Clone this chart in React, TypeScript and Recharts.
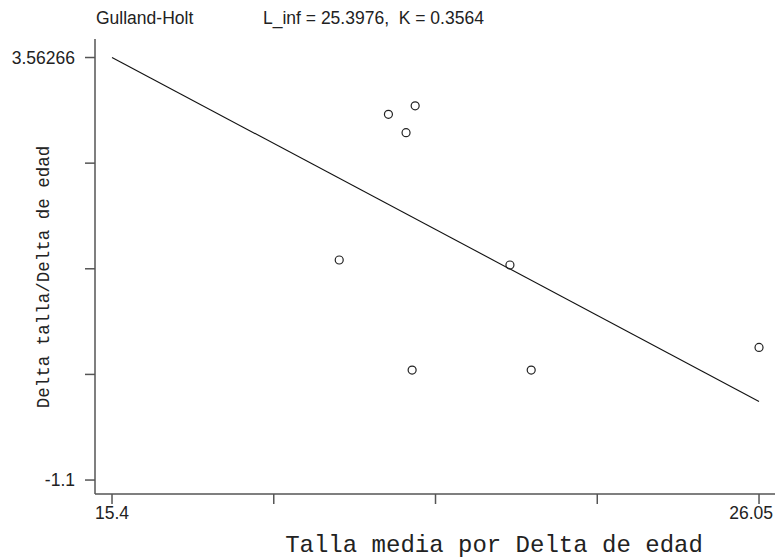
import { ScatterChart, Scatter, XAxis, YAxis } from 'recharts';

const xTicks = [15.4, 18.0625, 20.725, 23.3875, 26.05];
const yTicks = [-1.1, 0.065665, 1.23133, 2.397, 3.56266];

// observed points: mean length vs growth rate
const tallaMedia = [20.39, 19.95, 20.24, 19.14, 21.95, 20.34, 22.3, 26.05];
const deltaTalla = [3.03, 2.936, 2.733, 1.328, 1.273, 0.114, 0.114, 0.364];

// fitted Gulland-Holt line
const fitX = [15.4, 26.05];
const fitY = [3.5632, -0.2325];

const points = tallaMedia.map((x, i) => ({ x, y: deltaTalla[i] }));
const fit = fitX.map((x, i) => ({ x, y: fitY[i] }));

const sans = '"Liberation Sans", Arial, sans-serif';
const mono = '"Liberation Mono", "Courier New", monospace';

const XTick = (props: any) => {
  const { x, y, payload, index } = props;
  if (index !== 0 && index !== xTicks.length - 1) return <g />;
  const last = index === xTicks.length - 1;
  return (
    <text
      x={last ? x + 14 : x}
      y={y}
      dy={13}
      textAnchor={last ? 'end' : 'middle'}
      fontFamily={sans}
      fontSize={17.5}
      fill="#222"
    >
      {payload.value}
    </text>
  );
};

const YTick = (props: any) => {
  const { x, y, payload, index } = props;
  if (index !== 0 && index !== yTicks.length - 1) return <g />;
  return (
    <text x={x} y={y} dy={6} textAnchor="end" fontFamily={sans} fontSize={17.5} fill="#222">
      {payload.value}
    </text>
  );
};

const Hollow = (props: any) => (
  <circle cx={props.cx} cy={props.cy} r={4} fill="none" stroke="#222" strokeWidth={1.2} />
);

export default function App() {
  return (
    <div style={{ position: 'absolute', left: 0, top: 0, width: 777, height: 558, background: '#fff' }}>
      <div
        style={{
          position: 'absolute',
          top: 8,
          left: 96,
          fontFamily: sans,
          fontSize: 17.5,
          color: '#222',
          whiteSpace: 'pre',
        }}
      >
        Gulland-Holt
      </div>
      <div
        style={{
          position: 'absolute',
          top: 8,
          left: 263,
          fontFamily: sans,
          fontSize: 17.5,
          color: '#222',
          whiteSpace: 'pre',
        }}
      >
        {'L_inf = 25.3976,  K = 0.3564'}
      </div>
      <div
        style={{
          position: 'absolute',
          left: 494,
          top: 532,
          transform: 'translateX(-50%)',
          fontFamily: mono,
          fontSize: 24,
          color: '#222',
          whiteSpace: 'pre',
        }}
      >
        Talla media por Delta de edad
      </div>
      <div
        style={{
          position: 'absolute',
          left: 44,
          top: 277,
          transform: 'translate(-50%, -50%) rotate(-90deg)',
          fontFamily: mono,
          fontSize: 17.5,
          color: '#222',
          whiteSpace: 'pre',
        }}
      >
        Delta talla/Delta de edad
      </div>
      <ScatterChart width={777} height={558} margin={{ top: 39, right: 2, bottom: 0, left: 0 }}>
        <XAxis
          type="number"
          dataKey="x"
          domain={[15.12, 26.313]}
          ticks={xTicks}
          tick={<XTick />}
          tickSize={10}
          tickMargin={2}
          height={64}
          stroke="#555"
          strokeWidth={1.5}
          allowDataOverflow
        />
        <YAxis
          type="number"
          dataKey="y"
          domain={[-1.254, 3.767]}
          ticks={yTicks}
          tick={<YTick />}
          tickSize={10}
          tickMargin={10}
          width={95}
          stroke="#555"
          strokeWidth={1.5}
          allowDataOverflow
        />
        <Scatter
          data={fit}
          line={{ stroke: '#111', strokeWidth: 1.1 }}
          shape={() => <g />}
          isAnimationActive={false}
        />
        <Scatter data={points} shape={<Hollow />} isAnimationActive={false} />
      </ScatterChart>
    </div>
  );
}
